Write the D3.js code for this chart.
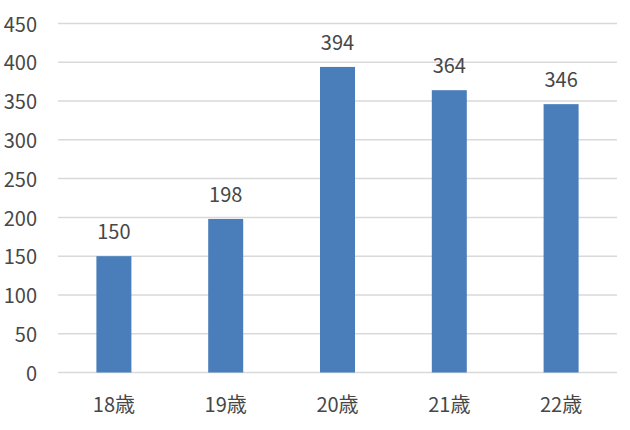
<!DOCTYPE html>
<html><head><meta charset="utf-8">
<script src="https://cdn.jsdelivr.net/npm/d3@7"></script>
<style>
html,body{margin:0;padding:0;background:#fff;}
text{font-family:"Noto Sans CJK JP","Noto Sans",sans-serif;fill:#474747;}
</style></head>
<body><svg id="c" width="630" height="430"></svg>
<script>
const categories = ["18歳","19歳","20歳","21歳","22歳"];
const values = [150,198,394,364,346];
const yTicks = [0,50,100,150,200,250,300,350,400,450];

const svg = d3.select("#c");
const x = d3.scaleBand().domain(categories).range([58,617]).paddingInner(0.687).paddingOuter(0.3435);
const y = d3.scaleLinear().domain([0,450]).range([372.5,23.5]);

// gridlines
svg.append("g").selectAll("line").data(yTicks).join("line")
  .attr("x1",58).attr("x2",617)
  .attr("y1",d=>y(d)).attr("y2",d=>y(d))
  .attr("stroke","#d9d9d9").attr("stroke-width",1.5);

// y labels
svg.append("g").selectAll("text").data(yTicks).join("text")
  .attr("x",37).attr("y",d=>y(d)+1).attr("dy","0.36em")
  .attr("text-anchor","end").attr("font-size",20).text(d=>d);

// bars
svg.append("g").selectAll("rect").data(values).join("rect")
  .attr("x",(d,i)=>x(categories[i])).attr("width",x.bandwidth())
  .attr("y",d=>y(d)).attr("height",d=>y(0)-y(d))
  .attr("fill","#4A7EBB");

// value labels
svg.append("g").selectAll("text").data(values).join("text")
  .attr("x",(d,i)=>x(categories[i])+x.bandwidth()/2).attr("y",d=>y(d)-17)
  .attr("text-anchor","middle").attr("font-size",20).text(d=>d);

// x labels
svg.append("g").selectAll("text").data(categories).join("text")
  .attr("x",d=>x(d)+x.bandwidth()/2).attr("y",411.5)
  .attr("text-anchor","middle").attr("font-size",20).text(d=>d);
</script></body></html>
